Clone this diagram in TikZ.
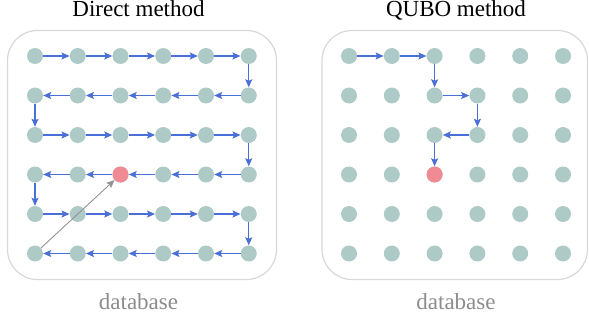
\documentclass[tikz,border=0pt]{standalone}
\usepackage{fontspec}
\setmainfont{Liberation Serif}
\usetikzlibrary{arrows.meta}
\definecolor{dotc}{HTML}{AECAC7}
\definecolor{hitc}{HTML}{F08A93}
\definecolor{flowc}{HTML}{4A6FD6}
\definecolor{boxc}{HTML}{D8D8D8}
\definecolor{labc}{HTML}{8C8C8C}
\tikzset{
  dot/.style={circle,fill=dotc,draw=none,minimum size=16pt,inner sep=0pt},
  hit/.style={dot,fill=hitc},
  flow/.style={draw=flowc,line width=1.2pt,-{Stealth[length=8pt,width=7pt,inset=1.5pt]}},
  jump/.style={draw=gray!85,line width=0.9pt,-{Stealth[length=8pt,width=7pt,inset=1.5pt]}},
  frame/.style={draw=boxc,line width=1.2pt,rounded corners=30pt},
  title/.style={anchor=base,font=\fontsize{23}{27}\selectfont,text=black,inner sep=0pt},
  dblab/.style={anchor=base,font=\fontsize{23}{27}\selectfont,text=labc,inner sep=0pt}
}
\begin{document}
\begin{tikzpicture}[x=1pt,y=-1pt]
\useasboundingbox (0,0) rectangle (589,321);
% frames
\draw[frame] (7.5,30.5) rectangle (276.5,279.5);
\draw[frame] (322,30.5) rectangle (587.5,279.5);
% titles
\node[title] (t1) at (138.5,17) {Direct method};
\node[title] (t2) at (456,17) {QUBO method};
\node[dblab] (d1) at (138.5,309) {database};
\node[dblab] (d2) at (456,309) {database};
% grids
\foreach \r in {1,...,6}{
  \foreach \c in {1,...,6}{
    \pgfmathsetmacro{\yy}{56+39.5*(\r-1)}
    \pgfmathsetmacro{\xl}{35+42.75*(\c-1)}
    \pgfmathsetmacro{\xr}{349+42.8*(\c-1)}
    \node[dot] (L-\r-\c) at (\xl,\yy) {};
    \node[dot] (R-\r-\c) at (\xr,\yy) {};
  }
}
\node[hit] (L-4-3) at (L-4-3) {};
\node[hit] (R-4-3) at (R-4-3) {};
% left snake path
\foreach \c [evaluate=\c as \n using int(\c+1)] in {1,...,5}{
  \draw[flow] (L-1-\c) -- (L-1-\n);
  \draw[flow] (L-2-\n) -- (L-2-\c);
  \draw[flow] (L-3-\c) -- (L-3-\n);
  \draw[flow] (L-4-\n) -- (L-4-\c);
  \draw[flow] (L-5-\c) -- (L-5-\n);
  \draw[flow] (L-6-\n) -- (L-6-\c);
}
\draw[flow] (L-1-6) -- (L-2-6);
\draw[flow] (L-2-1) -- (L-3-1);
\draw[flow] (L-3-6) -- (L-4-6);
\draw[flow] (L-4-1) -- (L-5-1);
\draw[flow] (L-5-6) -- (L-6-6);
\draw[jump] (L-6-1) -- (L-4-3);
% right path
\draw[flow] (R-1-1) -- (R-1-2);
\draw[flow] (R-1-2) -- (R-1-3);
\draw[flow] (R-1-3) -- (R-2-3);
\draw[flow] (R-2-3) -- (R-2-4);
\draw[flow] (R-2-4) -- (R-3-4);
\draw[flow] (R-3-4) -- (R-3-3);
\draw[flow] (R-3-3) -- (R-4-3);
\end{tikzpicture}
\end{document}
